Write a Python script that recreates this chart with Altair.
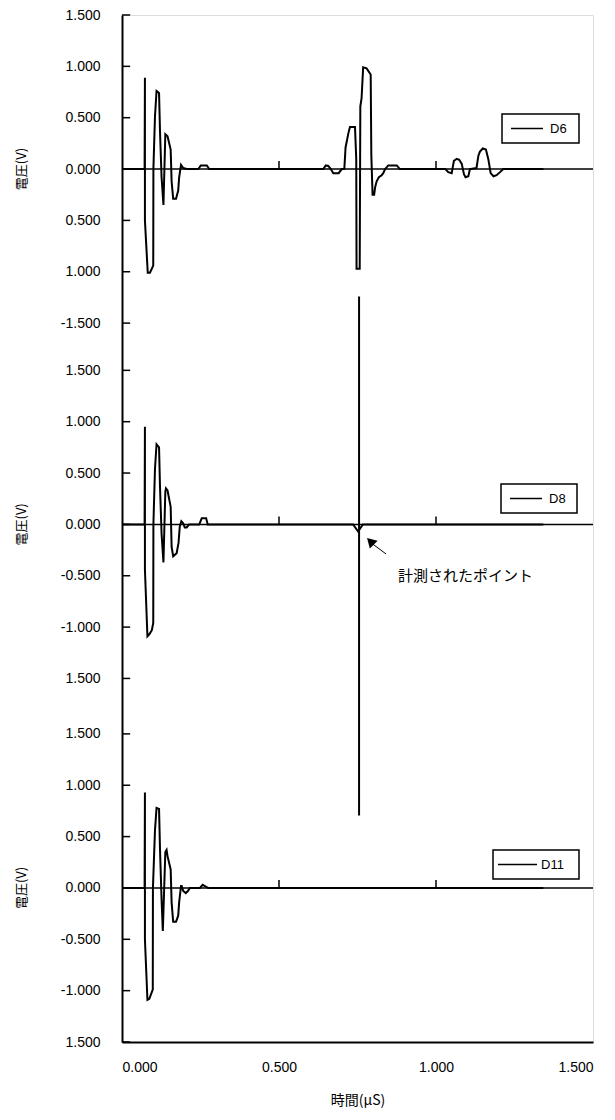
import altair as alt
import pandas as pd

# ---- data (time in µs, voltage in V) ----
d6_t = [0.0, 0.072, 0.073, 0.073, 0.082, 0.089, 0.0995, 0.100, 0.105, 0.110, 0.118, 0.121, 0.126, 0.132,
        0.138, 0.145, 0.155, 0.158, 0.163, 0.172, 0.179, 0.182, 0.188, 0.195, 0.206, 0.243, 0.251, 0.270,
        0.278, 0.641, 0.649, 0.657, 0.665, 0.673, 0.690, 0.700, 0.708, 0.712, 0.721, 0.726, 0.742, 0.746,
        0.747, 0.757, 0.759, 0.763, 0.768, 0.779, 0.792, 0.794, 0.798, 0.803, 0.806, 0.811, 0.818, 0.827,
        0.832, 0.838, 0.848, 0.875, 0.885, 1.030, 1.039, 1.050, 1.057, 1.066, 1.074, 1.082, 1.089, 1.094,
        1.103, 1.108, 1.129, 1.135, 1.140, 1.149, 1.159, 1.167, 1.174, 1.183, 1.193, 1.204, 1.214, 1.342]
d6_v = [0.0, 0.0, 0.89, -0.50, -1.01, -1.01, -0.94, 0.0, 0.51, 0.76, 0.74, 0.37, -0.08, -0.35,
        0.34, 0.32, 0.19, -0.12, -0.29, -0.29, -0.21, -0.08, 0.04, 0.01, 0.0, 0.0, 0.035, 0.035,
        0.0, 0.0, 0.035, 0.03, 0.0, -0.04, -0.04, 0.0, 0.0, 0.21, 0.35, 0.41, 0.41, 0.10,
        -0.97, -0.97, 0.61, 0.69, 0.99, 0.98, 0.92, 0.14, -0.25, -0.25, -0.18, -0.12, -0.08, -0.06,
        -0.04, 0.0, 0.035, 0.035, 0.0, 0.0, -0.03, -0.04, 0.08, 0.10, 0.09, 0.05, -0.05, -0.08,
        -0.07, 0.0, 0.01, 0.13, 0.17, 0.20, 0.19, 0.09, -0.04, -0.07, -0.06, -0.03, 0.0, 0.0]

d8_t = [0.0, 0.072, 0.073, 0.073, 0.081, 0.087, 0.095, 0.0995, 0.100, 0.105, 0.110, 0.118, 0.121, 0.126,
        0.132, 0.138, 0.140, 0.145, 0.155, 0.158, 0.163, 0.174, 0.180, 0.184, 0.189, 0.195, 0.200, 0.206,
        0.214, 0.246, 0.254, 0.268, 0.273, 0.736, 0.752, 0.767, 1.342]
d8_v = [0.0, 0.0, 0.95, -0.44, -1.09, -1.07, -1.03, -0.96, 0.0, 0.54, 0.78, 0.75, 0.37, -0.09,
        -0.37, 0.32, 0.35, 0.33, 0.17, -0.22, -0.31, -0.28, -0.18, -0.02, 0.03, 0.01, -0.03, -0.03,
        0.0, 0.0, 0.06, 0.06, 0.0, 0.0, -0.07, 0.0, 0.0]

d11_t = [0.0, 0.072, 0.073, 0.073, 0.081, 0.087, 0.098, 0.0985, 0.105, 0.110, 0.118, 0.121, 0.126, 0.130,
         0.138, 0.142, 0.145, 0.155, 0.158, 0.163, 0.172, 0.179, 0.182, 0.188, 0.190, 0.195, 0.203, 0.210,
         0.216, 0.248, 0.257, 0.268, 0.275, 1.342]
d11_v = [0.0, 0.0, 0.93, -0.50, -1.09, -1.08, -0.99, 0.0, 0.56, 0.78, 0.77, 0.38, -0.11, -0.42,
         0.35, 0.37, 0.31, 0.18, -0.14, -0.33, -0.33, -0.27, -0.14, 0.02, 0.02, -0.03, -0.05, -0.03,
         0.0, 0.0, 0.03, 0.01, 0.0, 0.0]

series_names = ["D6", "D8", "D11"]
panel_shift = [0.0, -3.46, -7.0]          # vertical position of each panel's zero line
panel_ticks = [1.5, 1.0, 0.5, 0.0, -0.5, -1.0, -1.5]
y_tick_labels = ["1.500", "1.000", "0.500", "0.000", "0.500", "1.000", "-1.500",
                 "1.500", "1.000", "0.500", "0.000", "-0.500", "-1.000", "1.500",
                 "1.500", "1.000", "0.500", "0.000", "-0.500", "-1.000", "1.500"]
x_ticks = [0.0, 0.5, 1.0, 1.5]
zero_axis_ticks = [0.5, 1.0]
marker_t = 0.755
marker_span = [-1.241, -6.294]
y_title = "電圧(V)"
x_title = "時間(μS)"
note_text = "計測されたポイント"

# ---- build tables ----
rows = []
for name, ts, vs, sh in zip(series_names, [d6_t, d8_t, d11_t], [d6_v, d8_v, d11_v], panel_shift):
    for i, (t, v) in enumerate(zip(ts, vs)):
        rows.append({"series": name, "t": t, "y": round(v + sh, 4), "order": i})
df = pd.DataFrame(rows)

tick_vals = [round(sh + v, 4) for sh in panel_shift for v in panel_ticks]
ticks_df = pd.DataFrame({"y": tick_vals, "t": 0.0, "t2": 0.026})
zero_df = pd.DataFrame({"y": panel_shift, "t": 0.0, "t2": 1.5, "label": y_title})
zt_df = pd.DataFrame([{"t": t, "y": sh, "y2": sh + 0.078} for sh in panel_shift for t in zero_axis_ticks])
marker_df = pd.DataFrame({"t": [marker_t], "y": [marker_span[0]], "y2": [marker_span[1]]})

label_expr = ("[" + ",".join(f"'{l}'" for l in y_tick_labels) + "][indexof(["
              + ",".join(repr(v) for v in tick_vals) + "], datum.value)]")

X_SCALE = alt.Scale(domain=[0, 1.5], nice=False, zero=False)
Y_SCALE = alt.Scale(domain=[-8.5, 1.5], nice=False, zero=False)

x_axis = alt.Axis(values=x_ticks, labelExpr="format(datum.value, '.3f')", tickSize=0, grid=False,
                  labelPadding=18, labelFont="Liberation Sans", labelFontSize=14, labelColor="black",
                  domainColor="black", domainWidth=2, title=x_title, titleFont="Noto Sans CJK JP",
                  titleFontSize=14, titleFontWeight="normal", titleColor="black", titlePadding=19)
y_axis = alt.Axis(values=tick_vals, labelExpr=label_expr, tickSize=0, grid=False, labelPadding=22,
                  labelFont="Liberation Sans", labelFontSize=14, labelColor="black",
                  domainColor="black", domainWidth=2, title=None)

X = alt.X("t:Q", scale=X_SCALE, axis=x_axis, title=x_title)
Y = alt.Y("y:Q", scale=Y_SCALE, axis=y_axis, title=None)

# legend boxes (layout, in pixels relative to the plot area): box x, x2, y, y2, line x, x2, text x
legend_layout = {
    "D6": (380, 457, 99, 128, 389, 421, 428),
    "D8": (379, 455, 469, 498, 388, 420, 427),
    "D11": (371, 457, 835, 864, 376, 415, 419),
}

one = pd.DataFrame({"k": [0]})
layers = []
legend_layers = []
for name in series_names:
    layers.append(
        alt.Chart(df).transform_filter(alt.datum.series == name)
        .mark_line(strokeWidth=2, interpolate="linear", color="black")
        .encode(x=X, y=Y, order="order:Q")
    )
    bx, bx2, by, by2, lx, lx2, tx = legend_layout[name]
    cy = (by + by2) / 2
    legend_layers.append(
        alt.Chart(one).mark_rect(fill="white", stroke="black", strokeWidth=1.5)
        .encode(x=alt.value(bx), x2=alt.value(bx2), y=alt.value(by), y2=alt.value(by2))
    )
    legend_layers.append(
        alt.Chart(one).mark_rule(color="black", strokeWidth=1.5)
        .encode(x=alt.value(lx), x2=alt.value(lx2), y=alt.value(cy))
    )
    legend_layers.append(
        alt.Chart(one).mark_text(align="left", baseline="middle", font="Liberation Sans",
                                 fontSize=13, color="black", text=name)
        .encode(x=alt.value(tx), y=alt.value(cy))
    )

zero_lines = alt.Chart(zero_df).mark_rule(color="black", strokeWidth=1.5).encode(x=X, x2="t2:Q", y=Y)
in_ticks = alt.Chart(ticks_df).mark_rule(color="black", strokeWidth=1.5).encode(x=X, x2="t2:Q", y=Y)
zero_ticks = alt.Chart(zt_df).mark_rule(color="black", strokeWidth=1.5).encode(x=X, y=Y, y2="y2:Q")
marker = alt.Chart(marker_df).mark_rule(color="black", strokeWidth=2).encode(x=X, y=Y, y2="y2:Q")

y_titles = alt.Chart(zero_df).mark_text(
    angle=270, font="Noto Sans CJK JP", fontSize=13, color="black", baseline="middle", align="center"
).encode(x=alt.value(-100), y=Y, text="label:N")

arrow_df = pd.DataFrame({"t": [0.841, 0.796], "y": [-3.748, -3.646]})
arrow_line = alt.Chart(arrow_df).mark_line(color="black", strokeWidth=1).encode(x=X, y=Y)
arrow_head = alt.Chart(pd.DataFrame({"t": [0.791], "y": [-3.625]})).mark_point(
    shape="triangle-up", angle=315, size=120, filled=True, color="black", opacity=1
).encode(x=X, y=Y)
note = alt.Chart(pd.DataFrame({"t": [0.879], "y": [-3.96], "label": [note_text]})).mark_text(
    align="left", baseline="middle", font="Noto Sans CJK JP", fontSize=15, color="black"
).encode(x=X, y=Y, text="label:N")

chart = (
    alt.layer(zero_lines, in_ticks, zero_ticks, marker, *layers, *legend_layers,
              y_titles, arrow_line, arrow_head, note)
    .properties(width=471, height=1027, autosize="none",
                padding={"left": 114, "top": 7, "right": 14, "bottom": 70})
    .configure_view(stroke="black", strokeWidth=2)
    .configure(background="white")
)

chart.save("out.html", embed_options={"renderer": "svg", "actions": False})
